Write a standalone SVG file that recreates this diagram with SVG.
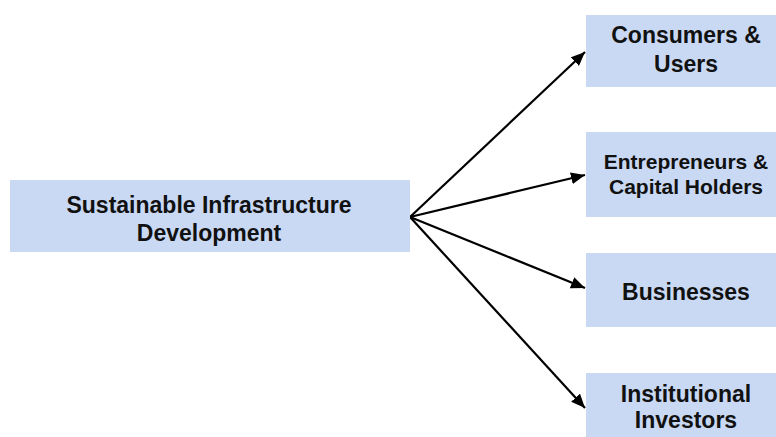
<svg xmlns="http://www.w3.org/2000/svg" width="776" height="437" viewBox="0 0 776 437">
<defs>
<marker id="ah" viewBox="0 0 14 12" refX="14" refY="6" markerWidth="14" markerHeight="12" markerUnits="userSpaceOnUse" orient="auto">
<path d="M0,0 L14,6 L0,12 Z" fill="#000"/>
</marker>
<style>
.box{fill:#C9D9F4;}
.t{font-family:"Liberation Sans",Arial,sans-serif;font-weight:bold;font-size:23px;fill:#111;text-anchor:middle;}
.s{font-size:21px;}
.c{stroke:#000;stroke-width:2.2;fill:none;marker-end:url(#ah);}
</style>
</defs>
<rect width="776" height="437" fill="#fff"/>
<g id="connectors">
<line class="c" x1="410" y1="217" x2="585" y2="52"/>
<line class="c" x1="410" y1="217" x2="585" y2="175"/>
<line class="c" x1="410" y1="217" x2="585" y2="288"/>
<line class="c" x1="410" y1="217" x2="585" y2="408"/>
</g>
<g id="main">
<rect class="box" x="10" y="180" width="400" height="72"/>
<text class="t" x="209" y="213">Sustainable Infrastructure</text>
<text class="t" x="209" y="241">Development</text>
</g>
<g id="consumers">
<rect class="box" x="586" y="15" width="200" height="72"/>
<text class="t" x="686" y="43">Consumers &amp;</text>
<text class="t" x="686" y="72">Users</text>
</g>
<g id="entrepreneurs">
<rect class="box" x="586" y="132" width="200" height="85"/>
<text class="t s" x="686" y="169">Entrepreneurs &amp;</text>
<text class="t s" x="686" y="194">Capital Holders</text>
</g>
<g id="businesses">
<rect class="box" x="586" y="253" width="200" height="74"/>
<text class="t" x="686" y="300">Businesses</text>
</g>
<g id="investors">
<rect class="box" x="586" y="373" width="200" height="70"/>
<text class="t" x="686" y="402">Institutional</text>
<text class="t" x="686" y="428">Investors</text>
</g>
</svg>
